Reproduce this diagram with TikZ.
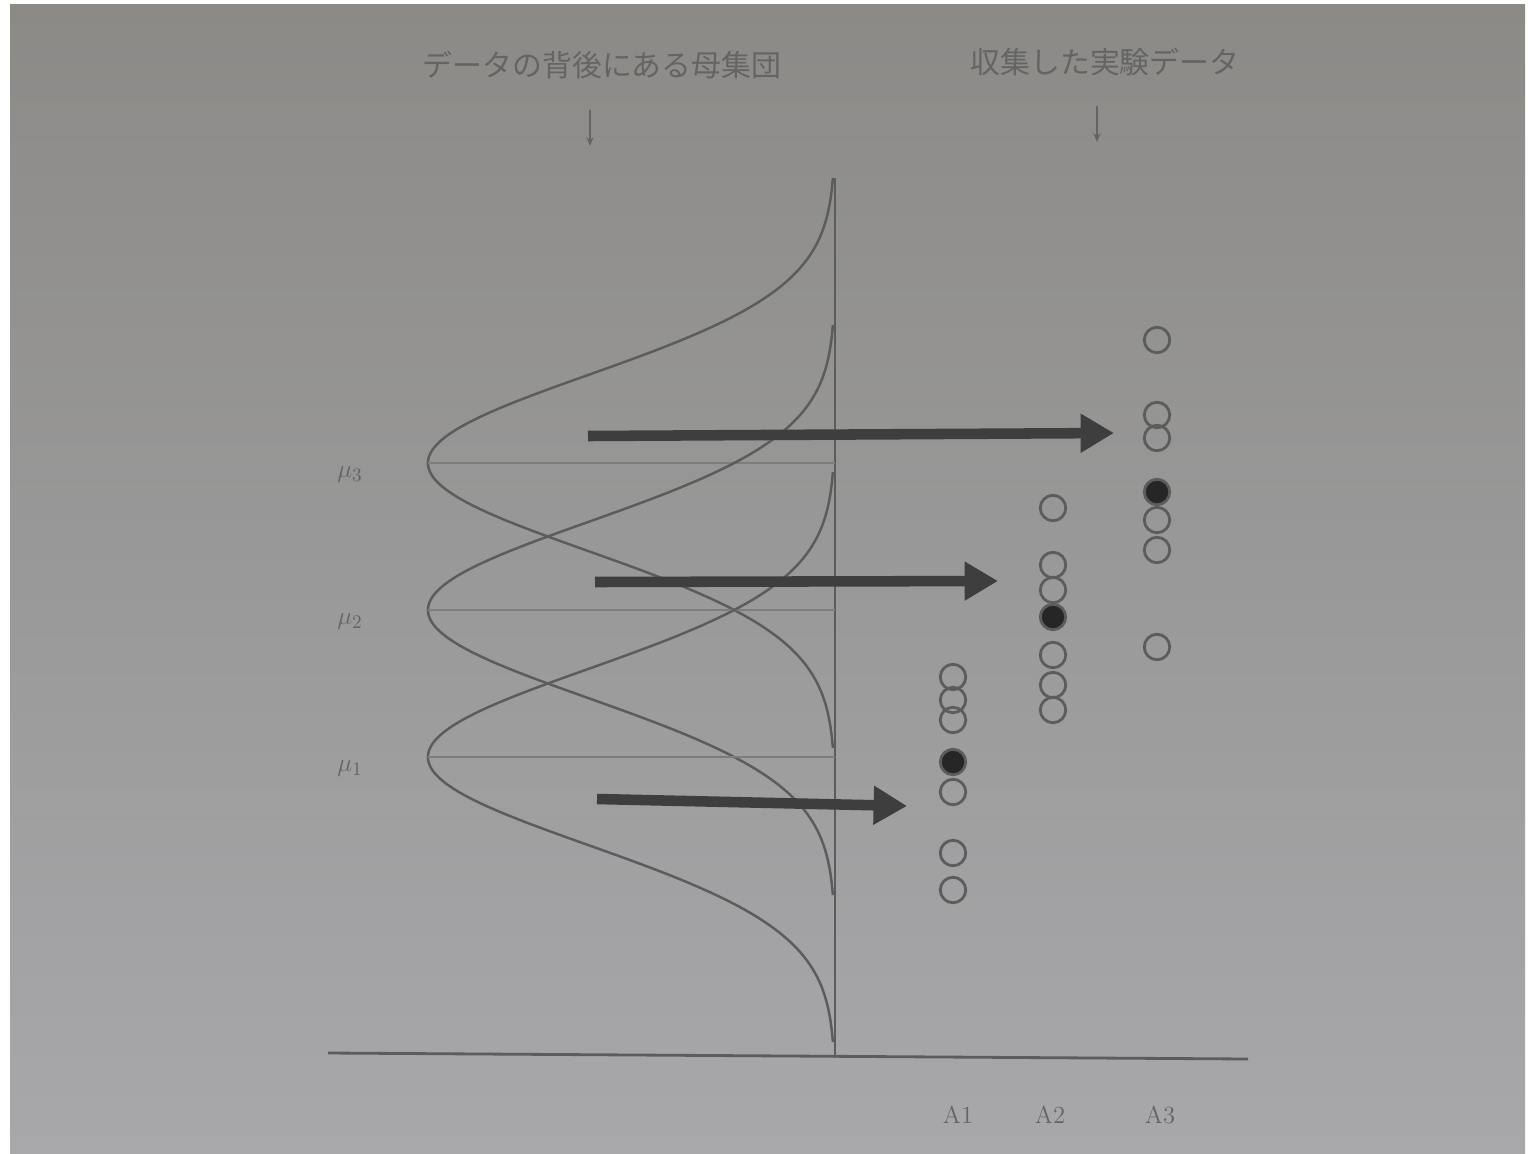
\documentclass[tikz,border=0pt]{standalone}
\usepackage{fontspec}
\newfontfamily\jpfont{Noto Sans CJK JP}
\usetikzlibrary{arrows.meta}
\definecolor{papertop}{RGB}{139,138,135}
\definecolor{papermid}{RGB}{162,162,163}
\definecolor{paperbot}{RGB}{168,168,171}
\definecolor{ink}{RGB}{92,92,92}
\definecolor{darkink}{RGB}{62,62,62}
\definecolor{textink}{RGB}{100,100,100}
\tikzset{
  curve/.style={ink, line width=1.4pt},
  meanline/.style={ink!80!white, line width=1pt},
  bigarrow/.style={darkink, line width=6pt, -{Triangle[width=21pt, length=19pt]}},
  smallarrow/.style={textink, line width=0.8pt, -{Stealth[width=4pt, length=5pt]}},
  obs/.style={circle, draw=ink, line width=1.6pt, minimum size=14.5pt, inner sep=0pt},
  meanobs/.style={obs, fill=black!85},
  jplabel/.style={textink, font=\jpfont\fontsize{17}{20}\selectfont},
  grp/.style={textink, font=\fontsize{14}{16}\selectfont}
}
\begin{document}
\begin{tikzpicture}[x=0.02cm, y=-0.02cm]
  \useasboundingbox (0,0) rectangle (1528,1153);
  \fill[white] (0,0) rectangle (1528,1153);
  \shade[top color=papertop, middle color=papermid, bottom color=paperbot] (10,4) rectangle (1525,1153);
  % headings
  \node[jplabel] (popl) at (602,65) {データの背後にある母集団};
  \node[jplabel] (samp) at (1105,62) {収集した実験データ};
  \coordinate (popl-s) at (590,110);
  \coordinate (popl-e) at (590,146);
  \coordinate (samp-s) at (1097,106);
  \coordinate (samp-e) at (1097,142);
  \draw[smallarrow] (popl-s) -- (popl-e);
  \draw[smallarrow] (samp-s) -- (samp-e);
  % axes
  \coordinate (ytop) at (835,178);
  \coordinate (ybot) at (835,1058);
  \coordinate (xl) at (328,1053);
  \coordinate (xr) at (1248,1059);
  \draw[ink, line width=1.6pt] (ytop) -- (ybot);
  \draw[ink, line width=1.6pt] (xl) -- (xr);
  % populations
  \foreach \m/\i in {463/3, 610/2, 757/1} {
    \draw[curve] plot[domain=\m-285:\m+285, samples=120, smooth]
      ({835-407*exp(-0.5*((\x-\m)/88)^2)}, \x);
    \draw[meanline] (428,\m) -- (835,\m);
    \node[textink, font=\fontsize{15}{18}\selectfont] (mu\i) at (350,\m+12) {$\mu_{\i}$};
  }
  % samples
  \foreach \c/\x/\ys/\ym in {a3/1157/{340,415,438,520,550,647}/492,
                             a2/1053/{508,565,590,655,685,710}/617,
                             a1/953/{677,700,720,792,853,890}/762} {
    \foreach \y [count=\k] in \ys
      \node[obs] (\c-\k) at (\x,\y) {};
    \node[meanobs] (\c-m) at (\x,\ym) {};
  }
  \coordinate (s3) at (588,436);
  \coordinate (e3) at (1114,433);
  \coordinate (s2) at (595,582);
  \coordinate (e2) at (998,581);
  \coordinate (s1) at (597,799);
  \coordinate (e1) at (907,806);
  \draw[bigarrow] (s3) -- (e3);
  \draw[bigarrow] (s2) -- (e2);
  \draw[bigarrow] (s1) -- (e1);
  % groups
  \node[grp] (ga1) at (958,1115) {A1};
  \node[grp] (ga2) at (1050,1115) {A2};
  \node[grp] (ga3) at (1160,1115) {A3};
\end{tikzpicture}
\end{document}
